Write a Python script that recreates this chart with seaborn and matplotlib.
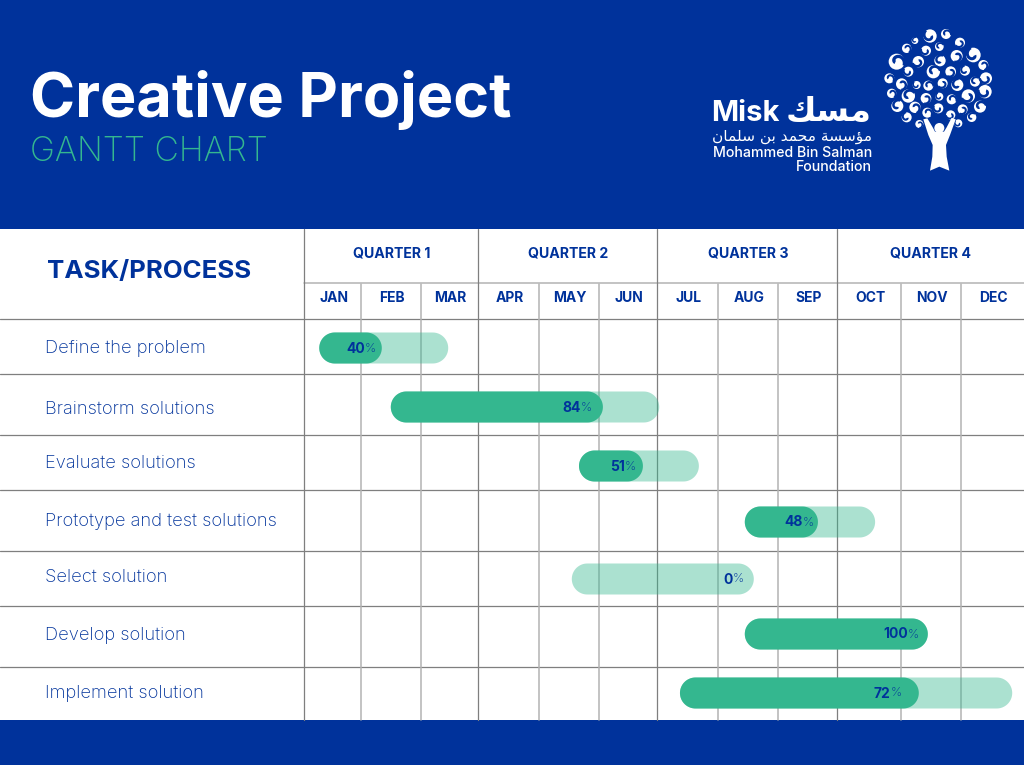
import numpy as np
import pandas as pd
import matplotlib
matplotlib.use('Agg')
import matplotlib.pyplot as plt
import seaborn as sns
from matplotlib.patches import Circle, Polygon, Rectangle
from matplotlib.transforms import IdentityTransform

# data (months from start of January)
tasks = ['Define the problem', 'Brainstorm solutions', 'Evaluate solutions',
         'Prototype and test solutions', 'Select solution', 'Develop solution', 'Implement solution']
start = [0.25, 1.48, 4.65, 7.43, 4.53, 7.43, 6.36]
end = [2.46, 6.02, 6.67, 9.58, 7.58, 10.43, 11.81]
done_until = [1.33, 5.05, 5.74, 8.66, 4.53, 10.43, 10.28]
percent = [40, 84, 51, 48, 0, 100, 72]
quarters = ['QUARTER 1', 'QUARTER 2', 'QUARTER 3', 'QUARTER 4']
months = ['JAN', 'FEB', 'MAR', 'APR', 'MAY', 'JUN', 'JUL', 'AUG', 'SEP', 'OCT', 'NOV', 'DEC']

# layout in pixels
month_edges = [305, 362, 422, 479, 540, 600, 658, 719, 779, 838, 902, 962, 1024]
row_edges = [320, 375, 436, 491, 552, 607, 668, 720]
row_centers = [348, 407, 466, 522, 579, 634, 693]
task_text_y = [348, 409, 463, 521, 577, 635, 693]
label_pad = [6, 11, 7, 4, 0, 9, 17]

navy = '#00329B'
green = '#34B78F'
W, H = 1024, 765

sns.set_theme(style='white')
plt.rcParams['font.family'] = ['Inter', 'DejaVu Sans']

fig = plt.figure(figsize=(W / 100, H / 100), dpi=100, facecolor='white')

# page layer in pixel coordinates, under the bars
page = fig.add_axes([0, 0, 1, 1], zorder=0)
page.set_xlim(0, W)
page.set_ylim(H, 0)
page.axis('off')
page.add_patch(Rectangle((0, 0), W, 229, color=navy, lw=0))
page.add_patch(Rectangle((0, 720), W, 45, color=navy, lw=0))

dark = '#7f7f7f'
soft = '#b3b3b3'
for y in row_edges[:-1]:
    page.plot([0, W], [y - 1, y - 1], color=dark, lw=0.9, zorder=1)
page.plot([304, W], [283, 283], color=soft, lw=1.1, zorder=1)
for i, x in enumerate(month_edges[:-1]):
    if i % 3 == 0:
        page.plot([x - 1, x - 1], [229, 720], color=dark, lw=0.9, zorder=1)
    else:
        page.plot([x - 1, x - 1], [284, 720], color=soft, lw=1.1, zorder=1)

page.text(30, 100, 'Creative Project', color='white', fontsize=44, fontweight='bold', va='center')
page.text(30, 152, 'GANTT CHART', color=green, fontsize=24.3, fontweight='light', va='center')
page.text(47, 271, 'TASK/PROCESS', color=navy, fontsize=18.6, fontweight='bold', va='center')
for i, q in enumerate(quarters):
    page.text((month_edges[3 * i] + month_edges[3 * i + 3]) / 2, 253, q, color=navy,
              fontsize=10.2, fontweight='bold', ha='center', va='center')
for i, m in enumerate(months):
    page.text((month_edges[i] + month_edges[i + 1]) / 2, 298, m, color=navy,
              fontsize=10, fontweight='bold', ha='center', va='center')
for t, y in zip(tasks, task_text_y):
    page.text(45, y, t, color=navy, fontsize=13.2, fontweight='light', va='center')

# chart layer: months across, rows down
ax = fig.add_axes([305 / W, 1 - 720 / H, (W - 305) / W, 400 / H], zorder=1)
df = pd.DataFrame({'row': row_centers, 'start': start,
                   'total': np.subtract(end, start), 'done': np.subtract(done_until, start)})
sns.barplot(data=df, x='total', y='row', orient='y', native_scale=True, left=df['start'],
            color=green, errorbar=None, ax=ax, saturation=1)
n_back = len(ax.patches)
sns.barplot(data=df, x='done', y='row', orient='y', native_scale=True, left=df['start'],
            color=green, errorbar=None, ax=ax, saturation=1)
ax.set_xscale('function', functions=(lambda v: np.interp(v, range(13), month_edges),
                                     lambda v: np.interp(v, month_edges, range(13))))
ax.set_xlim(0, 12)
ax.set_ylim(720, 320)
ax.axis('off')
ax.patch.set_alpha(0)


def pill_outline(x0, x1, cy, r):
    # stadium shape in display pixels
    th = np.linspace(-np.pi / 2, np.pi / 2, 40)
    right = np.column_stack([x1 - r + r * np.cos(th), cy + r * np.sin(th)])
    left = np.column_stack([x0 + r - r * np.cos(th[::-1]), cy + r * np.sin(th[::-1])])
    return np.vstack([right, left])


# swap the square bars for pill shapes of the same extent
bar_h = 31
for i, patch in enumerate(list(ax.patches)):
    box = patch.get_window_extent()
    patch.remove()
    if box.width < 1:
        continue
    back = i < n_back
    pill = Polygon(pill_outline(box.x0, box.x1, (box.y0 + box.y1) / 2, bar_h / 2), closed=True,
                   transform=IdentityTransform(), lw=0, clip_on=False,
                   facecolor=green, alpha=0.41 if back else 1, zorder=3 if back else 4)
    fig.add_artist(pill)

# top layer for the percent labels
over = fig.add_axes([0, 0, 1, 1], zorder=5)
over.set_xlim(0, W)
over.set_ylim(H, 0)
over.axis('off')
over.patch.set_alpha(0)

fig.canvas.draw()
rend = fig.canvas.get_renderer()
for i, p in enumerate(percent):
    edge = done_until[i] if p > 0 else end[i]
    xpx = np.interp(edge, range(13), month_edges) - (label_pad[i] if p > 0 else 10)
    y = row_centers[i] + 0.5
    sign = over.text(xpx, y, '%', color=navy, fontsize=9, fontweight='light', ha='right', va='center')
    left = sign.get_window_extent(rend).x0
    over.text(left, y, str(p), color=navy, fontsize=10, fontweight='bold', ha='right', va='center')

# logo wordmark
page.text(711, 113, 'Misk', color='white', fontsize=21, fontweight='bold', va='center')
page.text(872, 111, '\uFEDA\uFEB4\uFEE3', color='white', fontsize=24, fontweight='bold',
          ha='right', va='center', family='DejaVu Sans')
arabic = '\uFEE3\uFE86\uFEB3\uFEB4\uFE94 \uFEE3\uFEA4\uFEE4\uFEAA \uFE91\uFEE6 \uFEB3\uFEE0\uFEE4\uFE8E\uFEE5'
page.text(872, 136, arabic[::-1], color='white', fontsize=11.1, ha='right', va='center', family='DejaVu Sans')
page.text(872, 153, 'Mohammed Bin Salman', color='white', fontsize=10.2, fontweight='medium', ha='right', va='center')
page.text(872, 167, 'Foundation', color='white', fontsize=10.2, fontweight='medium', ha='right', va='center')

# logo tree, swirls then figure
swirls = [(720, 48, 20), (768, 42, 15), (810, 68, 15), (675, 62, 10), (650, 85, 14), (708, 92, 15),
          (748, 80, 13), (800, 108, 18), (850, 105, 22), (620, 125, 24), (685, 125, 17), (750, 122, 17),
          (880, 135, 15), (655, 155, 15), (730, 155, 20), (782, 155, 16), (825, 152, 15), (598, 175, 15),
          (888, 175, 18), (855, 185, 15), (635, 192, 17), (680, 195, 12), (715, 197, 15), (758, 190, 15),
          (802, 195, 18), (605, 220, 14), (885, 215, 20), (655, 228, 20), (708, 235, 16), (748, 230, 12),
          (785, 238, 15), (835, 228, 20), (622, 258, 18), (675, 262, 17), (745, 265, 15), (870, 260, 18),
          (818, 268, 15), (650, 292, 15), (712, 278, 15), (782, 285, 14), (845, 292, 14), (688, 312, 12),
          (805, 310, 12)]
for k, (zx, zy, zr) in enumerate(swirls):
    cx, cy, r = 690 + zx / 3, 20 + zy / 3, zr / 3
    page.add_patch(Circle((cx, cy), r, color='white', lw=0, zorder=7))
    th = np.linspace(0, 1.3 * np.pi, 30) + np.deg2rad(k * 137)
    rad = r * np.linspace(0.2, 1.05, 30)
    page.plot(cx + rad * np.cos(th), cy + rad * np.sin(th), color=navy, lw=max(r * 0.3, 0.7),
              solid_capstyle='butt', zorder=8)
person = [(700, 298), (712, 295), (728, 322), (735, 335), (762, 335), (770, 322), (785, 293),
          (797, 298), (780, 345), (768, 375), (770, 410), (778, 452), (748, 440), (720, 452), (727, 410),
          (728, 375), (715, 345)]
page.add_patch(Polygon([(690 + a / 3, 20 + b / 3) for a, b in person], color='white', lw=0, zorder=9))
page.add_patch(Circle((690 + 748 / 3, 20 + 324 / 3), 5, color='white', lw=0, zorder=9))

fig.savefig('out.png', dpi=100)
